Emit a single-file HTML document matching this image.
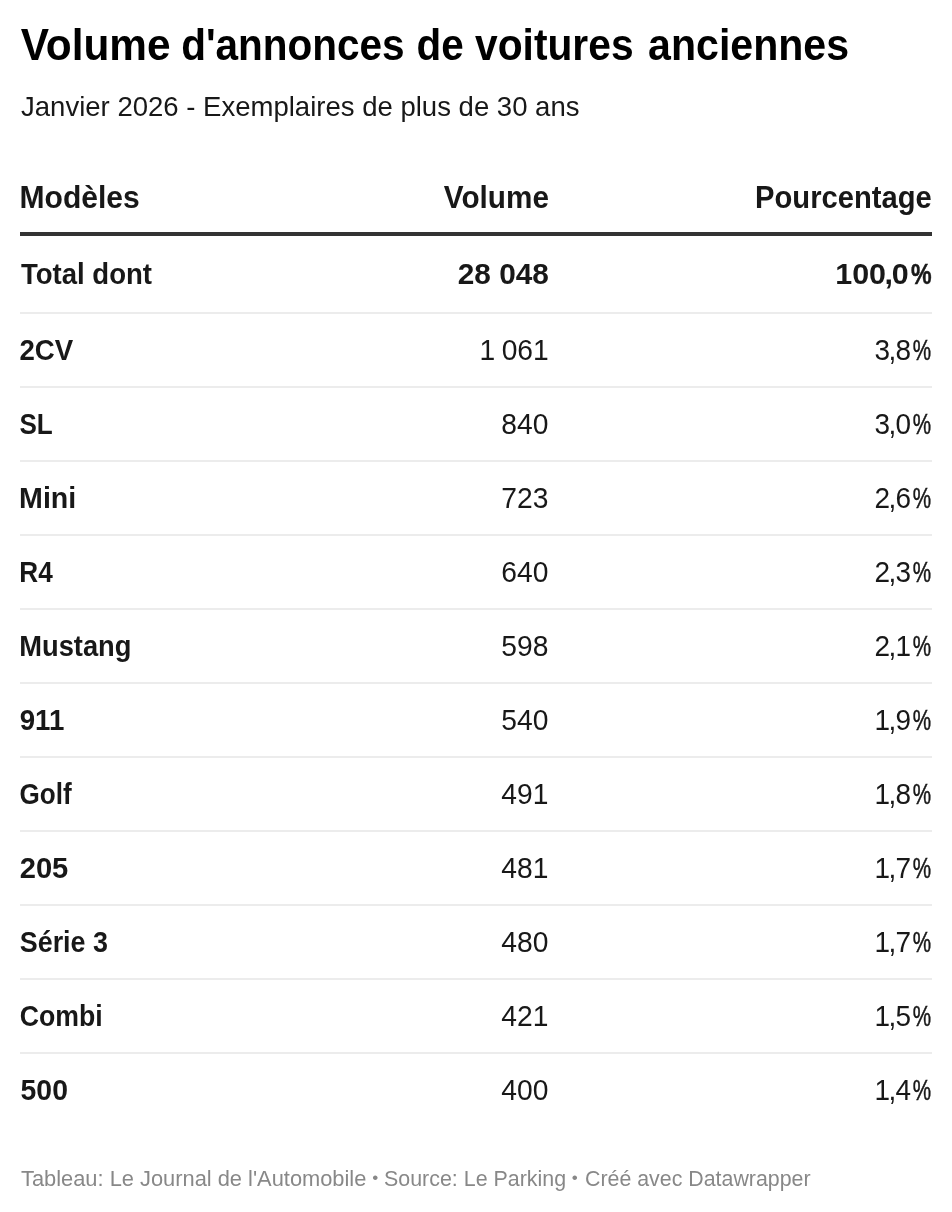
<!DOCTYPE html>
<html lang="fr">
<head>
<meta charset="utf-8">
<title>Volume d'annonces de voitures anciennes</title>
<style>
html,body{margin:0;padding:0;background:#fff;}
body{width:952px;height:1212px;position:relative;overflow:hidden;font-family:"Liberation Sans",Arial,sans-serif;color:#181818;}
h1{position:absolute;left:20px;top:19px;margin:0;font-size:44px;line-height:52px;font-weight:700;color:#000;white-space:nowrap;}
.sub{position:absolute;left:20px;top:88px;margin:0;font-size:28px;line-height:36px;font-weight:400;color:#181818;white-space:nowrap;}
table{position:absolute;left:20px;top:160px;width:912px;border-collapse:separate;border-spacing:0;table-layout:fixed;}
th,td{padding:0;margin:0;white-space:nowrap;vertical-align:middle;box-sizing:border-box;}
th{height:76px;border-bottom:4px solid #333;font-weight:700;text-align:right;font-size:30.8px;padding-top:4px;}
td{height:74px;border-bottom:2px solid #ececec;text-align:right;font-size:28.6px;padding-top:0px;}
tr.total td{height:78px;font-weight:700;padding-top:0px;}
tr.total i.p{transform:scaleX(0.76);}
tr.last td{border-bottom-color:transparent;}
th:first-child,td:first-child{text-align:left;font-weight:700;}
span{display:inline-block;transform-origin:0 50%;}
span.r{transform-origin:100% 50%;}
i{font-style:normal;display:inline-block;}
i.c{width:5.5px;text-indent:-1.5px;}
i.p{-webkit-text-stroke:0.5px #181818;width:20.5px;text-indent:2.8px;transform:scaleX(0.738);transform-origin:0 50%;}
.foot{position:absolute;left:20px;top:1164px;font-size:22px;line-height:28px;color:#888;white-space:nowrap;}
</style>
</head>
<body>
<h1><span id="t" style="transform:translate(0.70px,-0.50px) scaleX(0.9630)">Volume</span> <span id="t2" style="transform:translate(-6.83px,-0.50px) scaleX(0.9205)">d'annonces</span> <span id="t3" style="transform:translate(-26.41px,-0.50px) scaleX(0.9184)">de</span> <span id="t4" style="transform:translate(-30.96px,-0.50px) scaleX(0.9260)">voitures</span> <span id="t5" style="transform:translate(-41.92px,-0.50px) scaleX(0.9340)">anciennes</span></h1>
<p class="sub"><span id="s" style="transform:translate(1.00px,0.50px) scaleX(0.9831)">Janvier 2026 - Exemplaires de plus de 30 ans</span></p>
<table>
<colgroup><col style="width:260px"><col style="width:268px"><col style="width:384px"></colgroup>
<thead><tr><th><span id="h0" style="transform:translate(-0.55px,-0.50px) scaleX(0.9767)">Modèles</span></th><th><span id="h1" class="r" style="transform:translate(0.96px,-0.50px) scaleX(0.9648)">Volume</span></th><th><span id="h2" class="r" style="transform:translate(0.25px,-0.50px) scaleX(0.9473)">Pourcentage</span></th></tr></thead>
<tbody>
<tr class="total"><td><span id="r0c0" style="transform:translate(0.90px,0.00px) scaleX(0.9640)">Total dont</span></td><td><span id="r0c1" class="r" style="transform:translate(0.44px,0.00px) scaleX(1.0419)">28 048</span></td><td><span id="r0c2" class="r" style="transform:translate(-1.00px,0.00px) scaleX(1.0648)">100<i class="c">,</i>0<i class="p">%</i></span></td></tr>
<tr><td><span id="r1c0" style="transform:translate(-0.57px,0.00px) scaleX(0.9667)">2CV</span></td><td><span id="r1c1" class="r" style="transform:translate(0.69px,0.00px) scaleX(0.9870);word-spacing:-1.5px">1 061</span></td><td><span id="r1c2" class="r" style="transform:translate(-0.80px,0.00px) scaleX(0.9772)">3<i class="c">,</i>8<i class="p">%</i></span></td></tr>
<tr><td><span id="r2c0" style="transform:translate(-0.51px,0.00px) scaleX(0.9114)">SL</span></td><td><span id="r2c1" class="r" style="transform:translate(0.69px,0.00px) scaleX(0.9870)">840</span></td><td><span id="r2c2" class="r" style="transform:translate(-0.80px,0.00px) scaleX(0.9772)">3<i class="c">,</i>0<i class="p">%</i></span></td></tr>
<tr><td><span id="r3c0" style="transform:translate(-0.90px,0.00px) scaleX(1.0000)">Mini</span></td><td><span id="r3c1" class="r" style="transform:translate(0.69px,0.00px) scaleX(0.9870)">723</span></td><td><span id="r3c2" class="r" style="transform:translate(-0.80px,0.00px) scaleX(0.9772)">2<i class="c">,</i>6<i class="p">%</i></span></td></tr>
<tr><td><span id="r4c0" style="transform:translate(-0.73px,0.00px) scaleX(0.9143)">R4</span></td><td><span id="r4c1" class="r" style="transform:translate(0.69px,0.00px) scaleX(0.9870)">640</span></td><td><span id="r4c2" class="r" style="transform:translate(-0.80px,0.00px) scaleX(0.9772)">2<i class="c">,</i>3<i class="p">%</i></span></td></tr>
<tr><td><span id="r5c0" style="transform:translate(-0.81px,0.00px) scaleX(0.9553)">Mustang</span></td><td><span id="r5c1" class="r" style="transform:translate(0.69px,0.00px) scaleX(0.9870)">598</span></td><td><span id="r5c2" class="r" style="transform:translate(-0.80px,0.00px) scaleX(0.9772)">2<i class="c">,</i>1<i class="p">%</i></span></td></tr>
<tr><td><span id="r6c0" style="transform:translate(-0.27px,0.00px) scaleX(0.9667)">911</span></td><td><span id="r6c1" class="r" style="transform:translate(0.69px,0.00px) scaleX(0.9870)">540</span></td><td><span id="r6c2" class="r" style="transform:translate(-0.80px,0.00px) scaleX(0.9772)">1<i class="c">,</i>9<i class="p">%</i></span></td></tr>
<tr><td><span id="r7c0" style="transform:translate(-0.51px,0.00px) scaleX(0.9123)">Golf</span></td><td><span id="r7c1" class="r" style="transform:translate(0.69px,0.00px) scaleX(0.9870)">491</span></td><td><span id="r7c2" class="r" style="transform:translate(-0.80px,0.00px) scaleX(0.9772)">1<i class="c">,</i>8<i class="p">%</i></span></td></tr>
<tr><td><span id="r8c0" style="transform:translate(-0.32px,0.00px) scaleX(1.0196)">205</span></td><td><span id="r8c1" class="r" style="transform:translate(0.69px,0.00px) scaleX(0.9870)">481</span></td><td><span id="r8c2" class="r" style="transform:translate(-0.80px,0.00px) scaleX(0.9772)">1<i class="c">,</i>7<i class="p">%</i></span></td></tr>
<tr><td><span id="r9c0" style="transform:translate(-0.24px,0.00px) scaleX(0.9402)">Série 3</span></td><td><span id="r9c1" class="r" style="transform:translate(0.69px,0.00px) scaleX(0.9870)">480</span></td><td><span id="r9c2" class="r" style="transform:translate(-0.80px,0.00px) scaleX(0.9772)">1<i class="c">,</i>7<i class="p">%</i></span></td></tr>
<tr><td><span id="r10c0" style="transform:translate(-0.23px,0.00px) scaleX(0.9326)">Combi</span></td><td><span id="r10c1" class="r" style="transform:translate(0.69px,0.00px) scaleX(0.9870)">421</span></td><td><span id="r10c2" class="r" style="transform:translate(-0.80px,0.00px) scaleX(0.9772)">1<i class="c">,</i>5<i class="p">%</i></span></td></tr>
<tr class="last"><td><span id="r11c0" style="transform:translate(0.61px,0.00px) scaleX(0.9913)">500</span></td><td><span id="r11c1" class="r" style="transform:translate(0.69px,0.00px) scaleX(0.9870)">400</span></td><td><span id="r11c2" class="r" style="transform:translate(-0.80px,0.00px) scaleX(0.9772)">1<i class="c">,</i>4<i class="p">%</i></span></td></tr>
</tbody>
</table>
<div class="foot"><span id="f" style="transform:translate(1.00px,0.50px) scaleX(0.9928)">Tableau: Le Journal de l'Automobile</span> <span id="b1" style="transform:translate(-1.70px,-0.20px) scale(0.7800)">•</span> <span id="f2" style="transform:translate(-3.97px,0.50px) scaleX(0.9730)">Source: Le Parking</span> <span id="b2" style="transform:translate(-9.21px,-0.20px) scale(0.7800)">•</span> <span id="f3" style="transform:translate(-9.97px,0.50px) scaleX(0.9706)">Créé avec Datawrapper</span></div>
</body>
</html>
